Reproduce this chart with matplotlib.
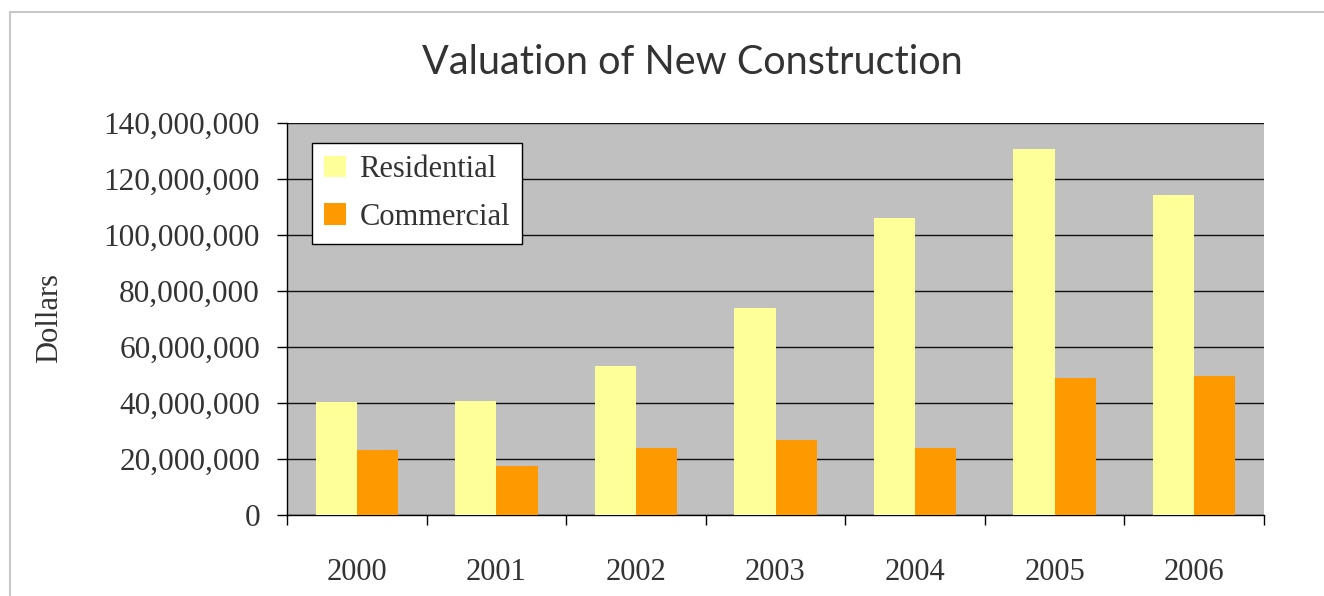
import matplotlib
matplotlib.use('Agg')
import matplotlib.pyplot as plt
import numpy as np
from matplotlib.ticker import FuncFormatter, FixedLocator

years = ['2000', '2001', '2002', '2003', '2004', '2005', '2006']
residential = [40.3e6, 40.7e6, 53.2e6, 74.0e6, 106.2e6, 130.8e6, 114.4e6]
commercial = [23.2e6, 17.6e6, 23.8e6, 26.8e6, 23.8e6, 48.9e6, 49.6e6]

W, H = 1324, 596
fig = plt.figure(figsize=(W / 100, H / 100), dpi=100)
serif = ['Liberation Serif', 'DejaVu Serif']
txt = '#333333'

# outer frame (left and top edges visible)
fig.add_artist(plt.Line2D([10 / W, 10 / W], [0, 1 - 12 / H], color='#c8c8c8', lw=1.5))
fig.add_artist(plt.Line2D([10 / W, 1], [1 - 12 / H, 1 - 12 / H], color='#c8c8c8', lw=1.5))

ax = fig.add_axes([287 / W, 81 / H, 977 / W, 392 / H])
ax.set_facecolor('#c0c0c0')

x = np.arange(len(years))
bw = 0.295
ax.bar(x - bw / 2, residential, width=bw, color='#ffff99', label='Residential', zorder=3)
ax.bar(x + bw / 2, commercial, width=bw, color='#ff9900', label='Commercial', zorder=3)

ax.set_xlim(-0.5, len(years) - 0.5)
ax.set_ylim(0, 140e6)
ax.set_yticks(np.arange(0, 140e6 + 1, 20e6))
ax.yaxis.set_major_formatter(FuncFormatter(lambda v, p: f'{int(v):,}'))
ax.grid(axis='y', color='#111111', lw=1, zorder=1)

ax.set_xticks(x)
ax.set_xticklabels(years)
ax.xaxis.set_minor_locator(FixedLocator(np.arange(-0.5, len(years), 1)))
ax.tick_params(axis='x', which='major', length=0, pad=31, labelsize=22, labelcolor=txt)
ax.tick_params(axis='x', which='minor', length=7.5, width=1, direction='out', color='black')
ax.tick_params(axis='y', length=7.5, width=1, direction='out', pad=12, labelsize=22.5, labelcolor=txt)
for lab in ax.get_xticklabels() + ax.get_yticklabels():
    lab.set_family(serif)

for s in ['top', 'right']:
    ax.spines[s].set_visible(False)
for s in ['left', 'bottom']:
    ax.spines[s].set_color('black')
    ax.spines[s].set_linewidth(1)

leg = ax.legend(loc='upper left', bbox_to_anchor=(0.0256, 0.949), borderaxespad=0,
                fancybox=False, frameon=True, edgecolor='black', framealpha=1,
                prop={'family': serif, 'size': 22}, handlelength=0.7, handleheight=0.7,
                handletextpad=0.45, labelspacing=0.6, borderpad=0.4)
leg.get_frame().set_linewidth(1)
for t in leg.get_texts():
    t.set_color(txt)

fig.text(692 / W, 1 - 63 / H, 'Valuation of New Construction', ha='center', va='center',
         fontsize=28.5, color=txt, family=['Lato', 'DejaVu Sans'])
fig.text(50 / W, 1 - 318 / H, 'Dollars', rotation=90, ha='center', va='center',
         fontsize=22, color=txt, family=serif)

fig.savefig('out.png', dpi=100)
